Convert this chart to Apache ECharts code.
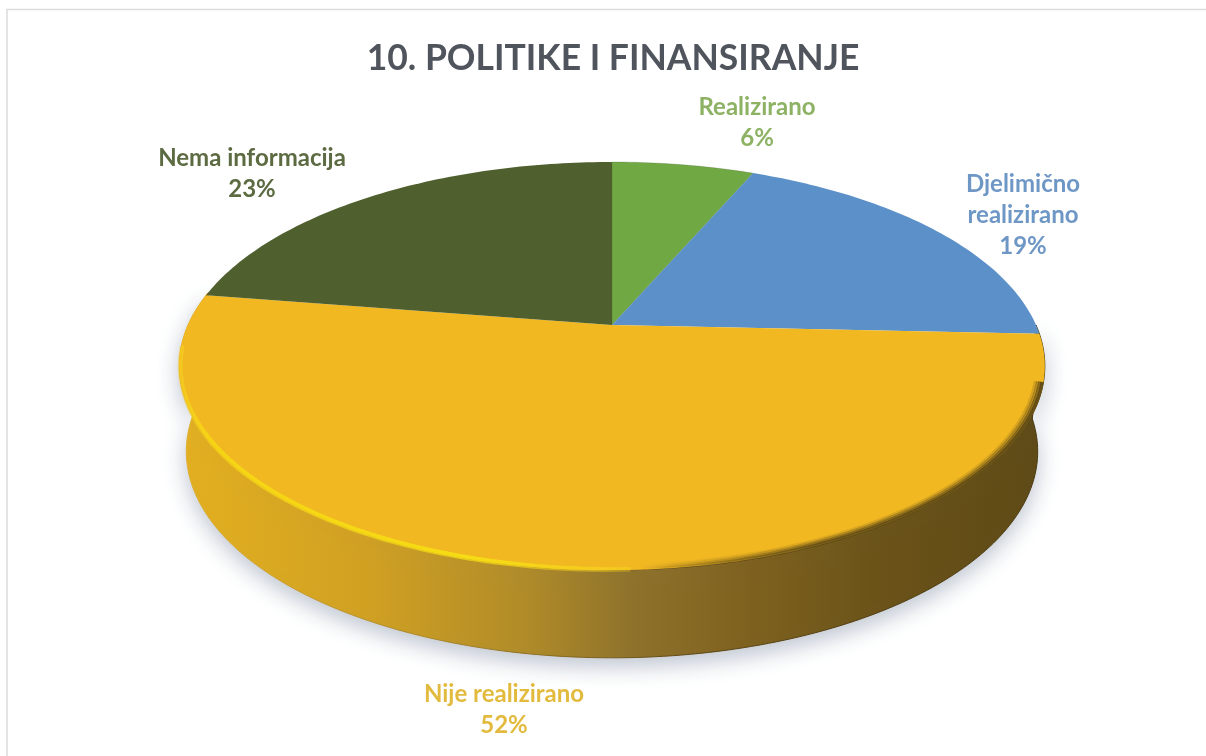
<!DOCTYPE html>
<html>
<head>
<meta charset="utf-8">
<style>html,body{margin:0;padding:0;background:#fff}#c{width:1206px;height:756px}</style>
<script src="https://cdn.jsdelivr.net/npm/echarts@6/dist/echarts.min.js"></script>
</head>
<body>
<div id="c"></div>
<script>
const chartTitle = '10. POLITIKE I FINANSIRANJE';
const categories = ['Realizirano', 'Djelimično\nrealizirano', 'Nije realizirano', 'Nema informacija'];
const shares = [6.45, 19.25, 51.8, 22.5];
const sliceColors = ['#70a844', '#5b90c9', '#f2b822', '#4f5f2e'];
const labelColors = ['#8db264', '#6f97c6', '#e2bb3e', '#5d6b42'];

const total = shares.reduce((a, b) => a + b, 0);
const font = 'Lato, Carlito, "Open Sans", sans-serif';
const layout = {
  cx: 612, k: 0.201,
  top: { cy: 325, R: 424, S: 195.8 },
  low: { cy: 410, R: 417, S: 198 },
  labels: [[757, 123], [1023, 215], [504, 710], [252, 174]]
};
function proj(deg, ring, r) {
  const t = deg * Math.PI / 180, u = r * Math.sin(t), v = -r * Math.cos(t), w = 1 - layout.k * v;
  return [layout.cx + ring.R * u / w, ring.cy + ring.S * v / w];
}
function arc(a0, a1, ring, r) {
  const n = Math.max(2, Math.ceil(Math.abs(a1 - a0))), pts = [];
  for (let i = 0; i <= n; i++) pts.push(proj(a0 + (a1 - a0) * i / n, ring, r === undefined ? 1 : r));
  return pts;
}
const G = (x0, x1, stops) => new echarts.graphic.LinearGradient(x0, 0, x1, 0, stops.map(s => ({offset: s[0], color: s[1]})), true);

function renderSlice(params, api) {
  const i = params.dataIndex;
  const before = shares.slice(0, i).reduce((a, b) => a + b, 0);
  const a0 = before / total * 360, a1 = a0 + api.value(0) / total * 360;
  const children = [];
  const s0 = Math.max(a0, 90), s1 = Math.min(a1, 280);
  const hasSide = s1 > s0;
  if (hasSide) {
    const side = arc(s0, s1, layout.top).concat(arc(s1, s0, layout.low));
    children.push({
      type: 'polygon', z2: 1, shape: {points: side},
      style: {
        fill: G(180, 1045, [[0, '#e4b01f'], [0.22, '#d0a022'], [0.4, '#b08b28'], [0.52, '#8f732b'], [0.64, '#80631f'], [0.8, '#6b5318'], [1, '#5e4915']]),
        stroke: G(180, 1045, [[0, '#e0b030'], [0.3, '#a8852a'], [0.6, '#5a4512'], [1, '#4a3a10']]), lineWidth: 1,
        shadowBlur: 22, shadowColor: 'rgba(110,125,150,0.45)', shadowOffsetY: 8
      }
    });
  }
  children.push({
    type: 'polygon', z2: 5,
    shape: {points: [proj(0, layout.top, 0)].concat(arc(a0, a1, layout.top))},
    style: hasSide ? {fill: sliceColors[i]} : {fill: sliceColors[i], stroke: 'rgba(60,60,40,0.3)', lineWidth: 0.6}
  });
  if (hasSide) {
    [[0.997, 3, 0.55], [0.992, 3, 0.3], [0.987, 3, 0.16], [0.982, 3, 0.07]].forEach(d => {
      children.push({
        type: 'polyline', z2: 6, shape: {points: arc(106, 180, layout.top, d[0])},
        style: {fill: null, lineWidth: d[1],
          stroke: G(640, 1042, [[0, 'rgba(90,70,20,0)'], [0.45, 'rgba(90,70,20,' + d[2] * 0.7 + ')'], [1, 'rgba(90,70,20,' + d[2] + ')']])}
      });
    });
    [[0.998, 5, 0.35], [0.996, 3, 0.95]].forEach(d => {
      children.push({
        type: 'polyline', z2: 7, shape: {points: arc(178, 264, layout.top, d[0])},
        style: {fill: null, lineWidth: d[1], opacity: d[2],
          stroke: G(182, 660, [[0, 'rgba(245,205,30,0.3)'], [0.06, '#f6d414'], [0.6, '#f6dc14'], [0.85, 'rgba(245,205,30,0.6)'], [1, 'rgba(245,205,30,0)']])}
      });
    });
  }
  const p = layout.labels[i];
  children.push({
    type: 'text', z2: 10, x: p[0], y: p[1],
    style: {
      text: categories[i] + '\n' + Math.round(api.value(0)) + '%',
      font: 'bold 24px ' + font, lineHeight: 31,
      fill: labelColors[i], align: 'center', verticalAlign: 'middle'
    }
  });
  return {type: 'group', children};
}

const chart = echarts.init(document.getElementById('c'), null, {renderer: 'canvas'});
chart.setOption({
  animation: false,
  backgroundColor: '#ffffff',
  title: {
    text: chartTitle, left: 608, top: 36, textAlign: 'center',
    textStyle: {fontFamily: font, fontWeight: 'bold', fontSize: 35.5, color: '#50545c'}
  },
  graphic: [{
    type: 'polyline', silent: true,
    shape: {points: [[7, 756], [7, 9.5], [1206, 9.5]]},
    style: {fill: null, stroke: '#dcdcdc', lineWidth: 1.5}
  }],
  series: [{
    type: 'custom', coordinateSystem: 'none', silent: true,
    renderItem: renderSlice,
    data: shares.map((v, i) => ({name: categories[i], value: [v]}))
  }]
});
</script>
</body>
</html>
